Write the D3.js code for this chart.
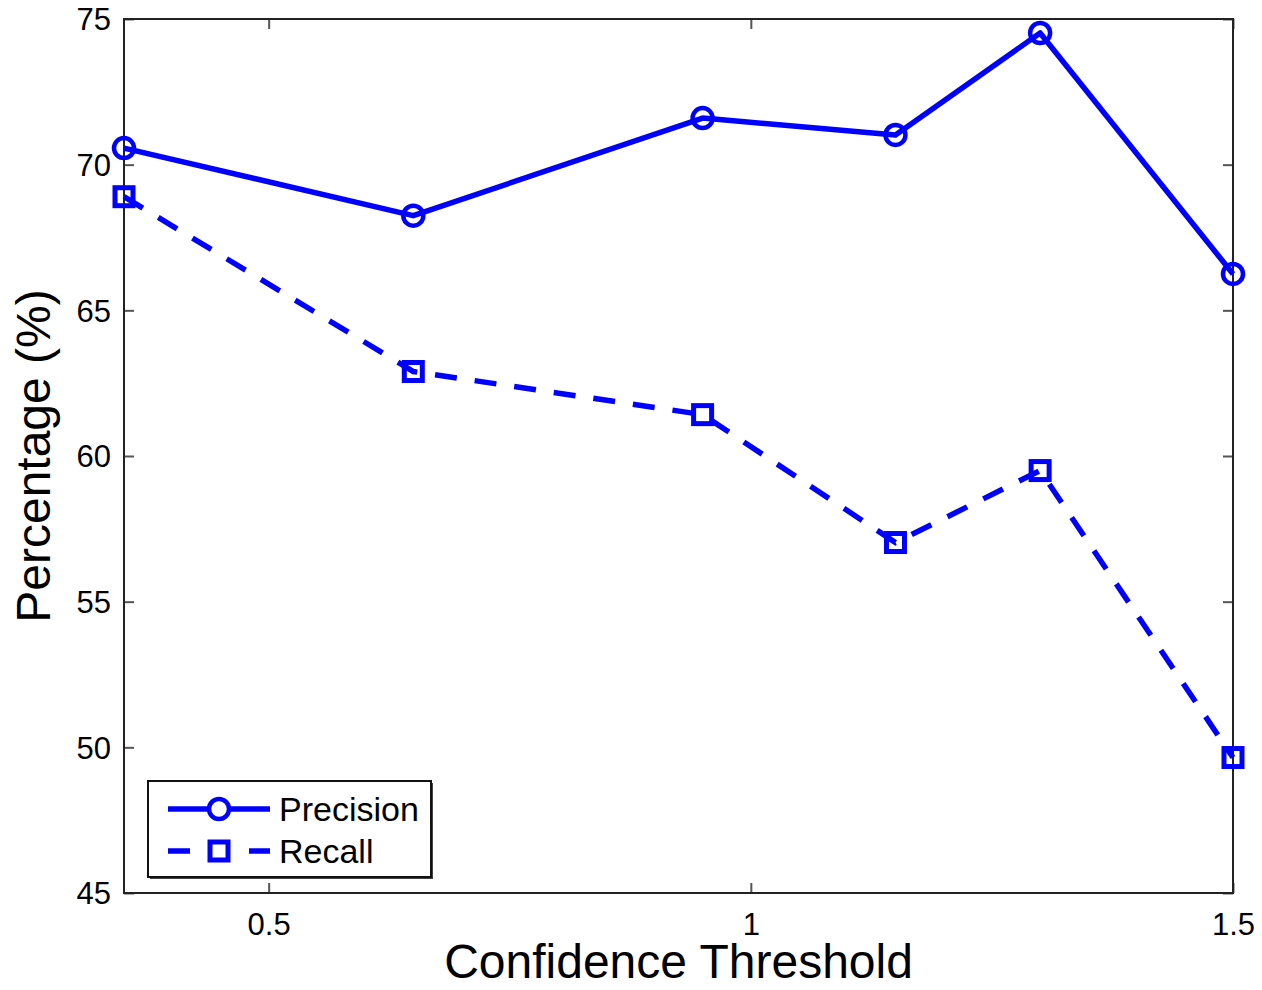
<!DOCTYPE html>
<html>
  <head>
    <meta charset="utf-8">
    <script src="https://d3js.org/d3.v7.min.js"></script>
    <title>Precision / Recall vs Confidence Threshold</title>
    <style>
      body { margin: 0px; background: #fff; }
      text { font-family: "Liberation Sans", Arial, sans-serif; fill: #000; }
      .tick text { font-size: 31px; }
      .axis-label { font-size: 48px; }
      .legend-text { font-size: 34px; }
    </style>
  </head>
  <body>
    <svg width="1262" height="990"></svg>
    <script>
      const thresholds = [0.35, 0.65, 0.95, 1.15, 1.3, 1.5];
      const precision = [70.57, 68.25, 71.6, 71.02, 74.52, 66.25];
      const recall = [68.9, 62.9, 61.42, 57.03, 59.5, 49.65];
      const xTicks = [0.5, 1, 1.5];
      const yTicks = [45, 50, 55, 60, 65, 70, 75];
      const seriesNames = ['Precision', 'Recall'];

      const margin = { left: 124, right: 29, top: 19, bottom: 97 };
      const svg = d3.select('svg');
      const width = +svg.attr('width');
      const height = +svg.attr('height');
      const innerWidth = width - margin.left - margin.right;
      const innerHeight = height - margin.top - margin.bottom;
      const blue = '#0000ff';

      const xScale = d3.scaleLinear().domain([0.35, 1.5]).range([0, innerWidth]);
      const yScale = d3.scaleLinear().domain([45, 75]).range([innerHeight, 0]);

      const g = svg.append('g')
          .attr('transform', `translate(${margin.left},${margin.top})`);

      // inward ticks, MATLAB style, on all four sides
      const tickFmt = d => d;
      const xAxisG = g.append('g')
          .attr('transform', `translate(0,${innerHeight})`)
          .call(d3.axisBottom(xScale).tickValues(xTicks).tickFormat(tickFmt)
            .tickSize(-10).tickPadding(20));
      const xTopG = g.append('g')
          .call(d3.axisTop(xScale).tickValues(xTicks).tickFormat('').tickSize(-10));
      const yAxisG = g.append('g')
          .call(d3.axisLeft(yScale).tickValues(yTicks).tickFormat(tickFmt)
            .tickSize(-10).tickPadding(13));
      const yRightG = g.append('g')
          .attr('transform', `translate(${innerWidth},0)`)
          .call(d3.axisRight(yScale).tickValues(yTicks).tickFormat('').tickSize(-10));

      [xAxisG, xTopG, yAxisG, yRightG].forEach(a => {
        a.select('.domain').remove();
        a.selectAll('.tick line').attr('stroke', '#555').attr('stroke-width', 2);
      });
      yAxisG.selectAll('.tick text').attr('dy', '0.35em');

      g.append('rect')
          .attr('width', innerWidth)
          .attr('height', innerHeight)
          .attr('fill', 'none')
          .attr('stroke', '#222')
          .attr('stroke-width', 2);

      const line = d3.line()
          .x((d, i) => xScale(thresholds[i]))
          .y(d => yScale(d));

      g.append('path')
          .datum(precision)
          .attr('d', line)
          .attr('fill', 'none')
          .attr('stroke', blue)
          .attr('stroke-width', 5.5)
          .attr('stroke-linejoin', 'round');

      g.append('path')
          .datum(recall)
          .attr('d', line)
          .attr('fill', 'none')
          .attr('stroke', blue)
          .attr('stroke-width', 5.5)
          .attr('stroke-dasharray', '22,18');

      g.selectAll('.pmark').data(precision)
        .enter().append('circle')
          .attr('class', 'pmark')
          .attr('cx', (d, i) => xScale(thresholds[i]))
          .attr('cy', d => yScale(d))
          .attr('r', 10)
          .attr('fill', 'none')
          .attr('stroke', blue)
          .attr('stroke-width', 4.5);

      g.selectAll('.rmark').data(recall)
        .enter().append('rect')
          .attr('class', 'rmark')
          .attr('x', (d, i) => xScale(thresholds[i]) - 9)
          .attr('y', d => yScale(d) - 9)
          .attr('width', 18)
          .attr('height', 18)
          .attr('fill', 'none')
          .attr('stroke', blue)
          .attr('stroke-width', 5);

      // axis labels
      svg.append('text')
          .attr('class', 'axis-label')
          .attr('x', margin.left + innerWidth / 2)
          .attr('y', 978)
          .attr('text-anchor', 'middle')
          .text('Confidence Threshold');

      svg.append('text')
          .attr('class', 'axis-label')
          .attr('transform', `translate(50,${margin.top + yScale(60)}) rotate(-90)`)
          .attr('text-anchor', 'middle')
          .text('Percentage (%)');

      // legend
      const legendG = svg.append('g').attr('transform', 'translate(148,781)');
      legendG.append('rect')
          .attr('x', 2).attr('y', 2)
          .attr('width', 283).attr('height', 96)
          .attr('fill', '#444');
      legendG.append('rect')
          .attr('width', 283).attr('height', 96)
          .attr('fill', '#fff')
          .attr('stroke', '#111')
          .attr('stroke-width', 2);

      seriesNames.forEach((name, i) => {
        const cy = 28 + i * 42;
        const row = legendG.append('g').attr('transform', `translate(0,${cy})`);
        row.append('line')
            .attr('x1', 20).attr('x2', 122)
            .attr('stroke', blue)
            .attr('stroke-width', 5.5)
            .attr('stroke-dasharray', i === 0 ? null : '22,59');
        if (i === 0) {
          row.append('circle').attr('cx', 71).attr('r', 10)
              .attr('fill', '#fff').attr('stroke', blue).attr('stroke-width', 4.5);
        } else {
          row.append('rect').attr('x', 62).attr('y', -9).attr('width', 18).attr('height', 18)
              .attr('fill', 'none').attr('stroke', blue).attr('stroke-width', 5);
        }
        row.append('text')
            .attr('class', 'legend-text')
            .attr('x', 131)
            .attr('dy', '0.36em')
            .text(name);
      });
    </script>
  </body>
</html>
